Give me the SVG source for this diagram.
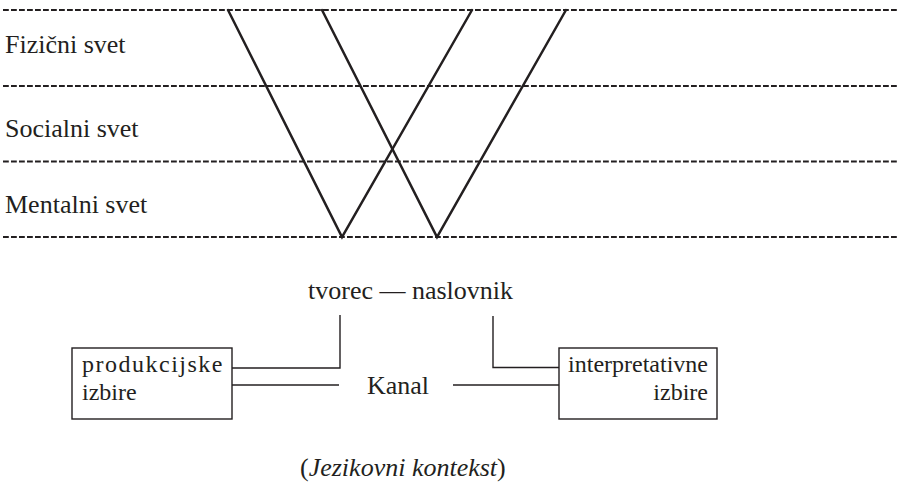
<svg xmlns="http://www.w3.org/2000/svg" width="898" height="492" viewBox="0 0 898 492">
  <style>
    .bg { fill: #ffffff; }
    .layer { stroke: #231f20; stroke-width: 2; stroke-dasharray: 5.8 2.2; fill: none; }
    .ray { stroke: #231f20; stroke-width: 2.5; fill: none; stroke-linecap: round; }
    .wire { stroke: #231f20; stroke-width: 1.4; fill: none; }
    .box { stroke: #231f20; stroke-width: 1.4; fill: #ffffff; }
    .t { font-family: "Liberation Serif", "Times New Roman", serif; fill: #231f20; font-size: 26px; }
    .bt { font-family: "Liberation Serif", "Times New Roman", serif; fill: #231f20; font-size: 24px; }
  </style>
  <rect class="bg" x="0" y="0" width="898" height="492"/>

  <!-- world layers -->
  <g id="layers">
    <line class="layer" x1="3" y1="10" x2="898" y2="10"/>
    <line class="layer" x1="3" y1="86" x2="898" y2="86"/>
    <line class="layer" x1="3" y1="161.5" x2="898" y2="161.5"/>
    <line class="layer" x1="3" y1="237" x2="898" y2="237"/>
  </g>
  <g id="label-fizicni"><text class="t" x="5" y="53">Fizični svet</text></g>
  <g id="label-socialni"><text class="t" x="5" y="137">Socialni svet</text></g>
  <g id="label-mentalni"><text class="t" x="5" y="213">Mentalni svet</text></g>

  <!-- the two V paths through the worlds -->
  <g id="rays">
    <polyline class="ray" points="228,10 342,237 472,10"/>
    <polyline class="ray" points="322,10 437,237 566,10"/>
  </g>

  <g id="participants">
    <text class="t" x="308" y="299">tvorec — naslovnik</text>
  </g>

  <g id="production">
    <rect class="box" x="72" y="348" width="160" height="71"/>
    <text class="bt" x="82" y="372" letter-spacing="1.5">produkcijske</text>
    <text class="bt" x="82" y="400">izbire</text>
  </g>

  <g id="interpretation">
    <rect class="box" x="559" y="348" width="158" height="71"/>
    <text class="bt" x="708" y="372" text-anchor="end">interpretativne</text>
    <text class="bt" x="708" y="400" text-anchor="end">izbire</text>
  </g>

  <g id="channel">
    <text class="t" x="367" y="394">Kanal</text>
  </g>

  <g id="connectors">
    <polyline class="wire" points="232,368 340,368 340,315"/>
    <line class="wire" x1="232" y1="385" x2="339" y2="385"/>
    <line class="wire" x1="453" y1="385" x2="559" y2="385"/>
    <polyline class="wire" points="493,316 493,367.5 559,367.5"/>
  </g>

  <g id="context">
    <text class="t" x="300" y="476">(<tspan font-style="italic">Jezikovni kontekst</tspan>)</text>
  </g>
</svg>
